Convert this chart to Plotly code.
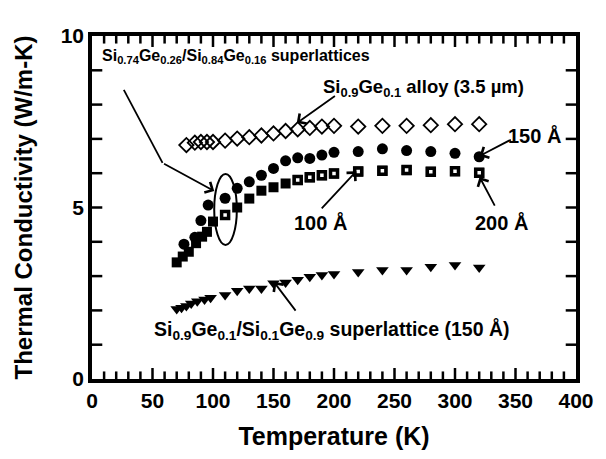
import plotly.graph_objects as go

# Si0.9Ge0.1 alloy (3.5 um) - open diamonds
alloy_T = [78, 85, 90, 95, 100, 110, 120, 130, 140, 150, 160, 170, 180, 190, 200, 220, 240, 260, 280, 300, 320]
alloy_k = [6.82, 6.89, 6.91, 6.91, 6.91, 6.95, 7.01, 7.05, 7.10, 7.16, 7.23, 7.28, 7.32, 7.36, 7.38, 7.36, 7.38, 7.38, 7.40, 7.43, 7.43]

# Si0.74Ge0.26/Si0.84Ge0.16 superlattice, 150 A period - filled circles
sl150_T = [76, 85, 90, 96, 110, 120, 130, 140, 150, 160, 170, 180, 190, 200, 220, 240, 260, 280, 300, 320]
sl150_k = [3.93, 4.13, 4.62, 5.07, 5.27, 5.56, 5.75, 5.94, 6.14, 6.36, 6.45, 6.43, 6.53, 6.61, 6.63, 6.71, 6.66, 6.63, 6.58, 6.48]

# 100 A period - filled squares
sl100_T = [70, 75, 80, 86, 91, 95, 100, 120, 130, 140, 150, 160, 170, 180, 190, 200, 220, 240, 260, 280, 300, 320]
sl100_k = [3.40, 3.57, 3.71, 3.96, 4.15, 4.29, 4.59, 5.00, 5.26, 5.49, 5.59, 5.70, 5.80, 5.88, 5.94, 5.99, 6.05, 6.07, 6.09, 6.04, 6.06, 6.01]

# 200 A period - open squares
sl200_T = [110, 170, 180, 190, 200, 220, 240, 260, 280, 300, 320]
sl200_k = [4.78, 5.80, 5.88, 5.94, 5.99, 6.05, 6.07, 6.09, 6.04, 6.06, 6.01]

# Si0.9Ge0.1/Si0.1Ge0.9 superlattice (150 A) - filled down triangles
slx_T = [70, 74, 78, 82, 87, 93, 98, 110, 120, 130, 140, 150, 160, 170, 180, 190, 200, 220, 240, 260, 280, 300, 320]
slx_k = [2.04, 2.08, 2.13, 2.20, 2.27, 2.32, 2.37, 2.45, 2.57, 2.64, 2.64, 2.79, 2.81, 2.89, 2.98, 3.03, 3.06, 3.12, 3.18, 3.18, 3.27, 3.32, 3.25]

x_range = [0, 400]
y_range = [0, 10]
x_major = 50
x_minor = 10
y_major = 5
y_minor = 1

FONT = "Liberation Sans, Arial, sans-serif"
BLACK = "black"

fig = go.Figure()

fig.add_trace(go.Scatter(
    x=alloy_T, y=alloy_k, mode="markers",
    marker=dict(symbol="diamond-open", size=11, color=BLACK, line=dict(width=1.8, color=BLACK)),
))
fig.add_trace(go.Scatter(
    x=slx_T, y=slx_k, mode="markers",
    marker=dict(symbol="triangle-down", size=11, color=BLACK),
))
fig.add_trace(go.Scatter(
    x=sl100_T, y=sl100_k, mode="markers",
    marker=dict(symbol="square", size=10, color=BLACK),
))
fig.add_trace(go.Scatter(
    x=sl200_T, y=sl200_k, mode="markers",
    marker=dict(symbol="square", size=7, color="white", line=dict(width=3.5, color=BLACK)),
))
fig.add_trace(go.Scatter(
    x=sl150_T, y=sl150_k, mode="markers",
    marker=dict(symbol="circle", size=11, color=BLACK),
))

# Ellipse grouping the 110 K points
fig.add_shape(type="circle", xref="x", yref="y", x0=101, x1=119.7, y0=3.91, y1=5.98,
              line=dict(color=BLACK, width=2))
# Leader line from the superlattice label to the ellipse
fig.add_shape(type="line", xref="x", yref="y", x0=26.3, y0=8.43, x1=58.3, y1=6.30,
              line=dict(color=BLACK, width=1.8))

# Inward tick marks on all four sides of the frame, lengths in axis units
tick_line = dict(color=BLACK, width=2.5)
x_len_major = 0.32   # in conductivity units (~11 px)
x_len_minor = 0.22   # (~7.5 px)
y_len = 8.5          # in kelvin (~10 px)
for t in range(x_range[0] + x_minor, x_range[1], x_minor):
    ln = x_len_major if t % x_major == 0 else x_len_minor
    fig.add_shape(type="line", xref="x", yref="y", x0=t, x1=t,
                  y0=y_range[0], y1=y_range[0] + ln, line=tick_line, layer="above")
    fig.add_shape(type="line", xref="x", yref="y", x0=t, x1=t,
                  y0=y_range[1], y1=y_range[1] - ln, line=tick_line, layer="above")
for v in range(y_range[0] + y_minor, y_range[1], y_minor):
    fig.add_shape(type="line", xref="x", yref="y", y0=v, y1=v,
                  x0=x_range[0], x1=x_range[0] + y_len, line=tick_line, layer="above")
    fig.add_shape(type="line", xref="x", yref="y", y0=v, y1=v,
                  x0=x_range[1], x1=x_range[1] - y_len, line=tick_line, layer="above")


def arrow(tail, head):
    fig.add_annotation(x=head[0], y=head[1], ax=tail[0], ay=tail[1],
                       xref="x", yref="y", axref="x", ayref="y",
                       text="", showarrow=True, arrowhead=4, arrowsize=1.3,
                       arrowwidth=1.8, arrowcolor=BLACK)


def label(x, y, text, size):
    fig.add_annotation(x=x, y=y, xref="x", yref="y", text=text, showarrow=False,
                       font=dict(family=FONT, size=size, color=BLACK, weight="bold"),
                       xanchor="center", yanchor="middle")


arrow((58.3, 6.30), (101, 5.48))
arrow((202, 8.28), (169.2, 7.46))
arrow((347.4, 7.0), (320.3, 6.5))
arrow((188.7, 4.93), (218.5, 6.06))
arrow((333.5, 5.01), (320.3, 5.89))
arrow((169.2, 1.95), (150.3, 2.83))

label(119, 9.39, "Si<sub>0.74</sub>Ge<sub>0.26</sub>/Si<sub>0.84</sub>Ge<sub>0.16</sub> superlattices", 16)
label(274.3, 8.48, "Si<sub>0.9</sub>Ge<sub>0.1</sub> alloy (3.5 µm)", 18.5)
label(365.5, 7.11, "150 Å", 20)
label(189, 4.55, "100 Å", 20)
label(338.4, 4.55, "200 Å", 20)
label(198, 1.43, "Si<sub>0.9</sub>Ge<sub>0.1</sub>/Si<sub>0.1</sub>Ge<sub>0.9</sub> superlattice (150 Å)", 19.5)

axis_common = dict(
    showgrid=False, zeroline=False, showline=True, linecolor=BLACK, linewidth=3.5,
    mirror=True, ticks="", tickmode="linear", tick0=0,
    tickfont=dict(family=FONT, size=21, color=BLACK, weight="bold"),
)

fig.update_xaxes(
    range=x_range, dtick=x_major,
    title=dict(text="Temperature (K)", font=dict(family=FONT, size=25, color=BLACK, weight="bold"),
               standoff=18),
    **axis_common,
)
fig.update_yaxes(
    range=y_range, dtick=y_major,
    title=dict(text="Thermal Conductivity (W/m-K)", font=dict(family=FONT, size=24, color=BLACK, weight="bold"),
               standoff=22),
    **axis_common,
)

fig.update_layout(
    width=606, height=459,
    margin=dict(l=92, r=27, t=36, b=80),
    paper_bgcolor="white", plot_bgcolor="white",
    showlegend=False,
    font=dict(family=FONT, color=BLACK),
)

fig.write_html("out.html")
